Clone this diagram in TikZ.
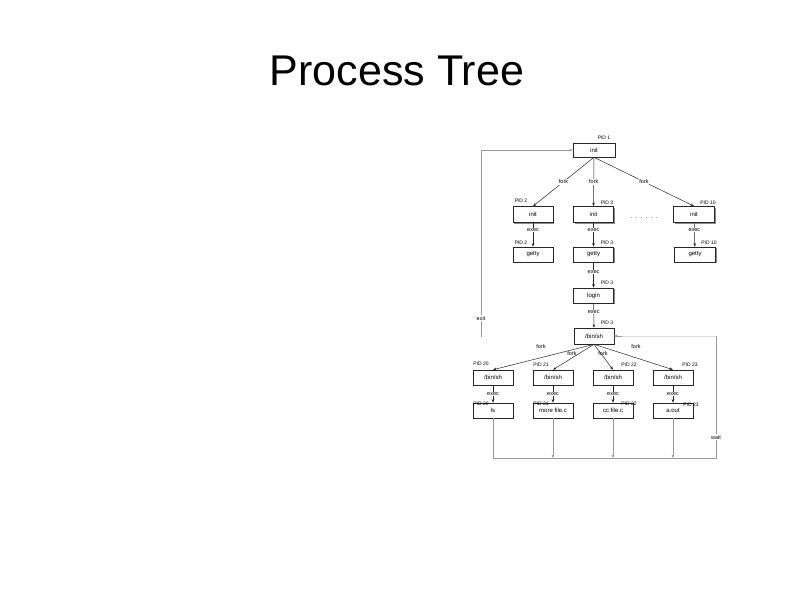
\documentclass[tikz,border=0pt]{standalone}
\usepackage{fontspec}
\setmainfont{Liberation Sans}
\usetikzlibrary{arrows.meta,shadows}
\tikzset{
  pbox/.style={draw=black!85, line width=0.6pt, fill=white, minimum width=40pt, minimum height=15pt,
    inner sep=0pt, font=\fontsize{6}{7}\selectfont,
    drop shadow={shadow xshift=1.2pt, shadow yshift=-1.2pt, fill=black!45, opacity=1}},
  pid/.style={font=\fontsize{5}{6}\selectfont, inner sep=0.5pt},
  lbl/.style={font=\fontsize{5.5}{6}\selectfont, fill=white, inner sep=0.8pt},
  conn/.style={draw=black!85, line width=0.5pt, -{Stealth[length=3.5pt,width=2.6pt]}},
  back/.style={draw=black!40, line width=0.6pt},
  backarr/.style={draw=black!40, line width=0.6pt, -{Stealth[length=3.5pt,width=2.8pt]}},
}
\begin{document}
\begin{tikzpicture}[x=1pt,y=-1pt]
\useasboundingbox[fill=white] (0,0) rectangle (794,595);
% title
\node[font=\fontsize{43}{50}\selectfont, anchor=base, inner sep=0pt] (title) at (397,85) {Process Tree};

% boxes
\node[pbox, minimum width=42pt, minimum height=14pt] (init) at (594,150) {init};
\node[pbox, minimum height=16pt] (i2) at (533,214.5) {init};
\node[pbox, minimum height=16pt] (i3) at (593.5,214.5) {init};
\node[pbox, minimum height=16pt, minimum width=41pt] (i10) at (694,214.5) {init};
\node[pbox] (g2) at (533,254.5) {getty};
\node[pbox] (g3) at (593.5,254.5) {getty};
\node[pbox, minimum width=41pt] (g10) at (695,254.5) {getty};
\node[pbox] (login) at (593.5,295.5) {login};
\node[pbox, minimum height=16pt] (sh) at (594,336) {/bin/sh};
\node[pbox] (s20) at (493,377.5) {/bin/sh};
\node[pbox] (s21) at (553,377.5) {/bin/sh};
\node[pbox] (s22) at (613,377.5) {/bin/sh};
\node[pbox] (s23) at (673,377.5) {/bin/sh};
\node[pbox] (ls) at (493,410.5) {ls};
\node[pbox] (more) at (553,410.5) {more file.c};
\node[pbox] (cc) at (613,410.5) {cc file.c};
\node[pbox] (aout) at (673,410.5) {a.out};

% PID labels
\node[pid] (p1) at (604,138) {PID 1};
\node[pid] (p2a) at (521,201) {PID 2};
\node[pid] (p3a) at (607,203) {PID 3};
\node[pid] (p10a) at (708,203) {PID 10};
\node[pid] (p2b) at (521,243) {PID 2};
\node[pid] (p3b) at (607,243) {PID 3};
\node[pid] (p10b) at (709,243) {PID 10};
\node[pid] (p3c) at (607,283) {PID 3};
\node[pid] (p3d) at (607,323) {PID 3};
\node[pid] (p20a) at (481,364) {PID 20};
\node[pid] (p21a) at (541,365) {PID 21};
\node[pid] (p22a) at (629,365) {PID 22};
\node[pid] (p23a) at (690,365) {PID 23};
\node[pid] (p20b) at (481,404) {PID 20};
\node[pid] (p21b) at (541,404) {PID 21};
\node[pid] (p22b) at (629,404) {PID 22};
\node[pid] (p23b) at (691,405) {PID 23};

% dots
\node[font=\fontsize{6}{6}\selectfont, inner sep=0pt] (dots) at (644,218) {.\ \ .\ \ .\ \ .\ \ .\ \ .};

% forks from init
\draw[conn] (init.south) -- node[lbl] (f1) {fork} (i2.north);
\draw[conn] (init.south) -- node[lbl] (f2) {fork} (i3.north);
\draw[conn] (init.south) -- node[lbl] (f3) {fork} (i10.north);

% execs
\draw[conn] (i2) -- node[lbl, pos=0.3] (e1) {exec} (g2);
\draw[conn] (i3) -- node[lbl, pos=0.3] (e2) {exec} (g3);
\draw[conn] (i10) -- node[lbl, pos=0.3] (e3) {exec} (g10);
\draw[conn] (g3) -- node[lbl, pos=0.38] (e4) {exec} (login);
\draw[conn] (login) -- node[lbl, pos=0.36] (e5) {exec} (sh);

% forks from /bin/sh
\draw[conn] (sh.south) -- (s20.north);
\draw[conn] (sh.south) -- (s21.north);
\draw[conn] (sh.south) -- (s22.north);
\draw[conn] (sh.south) -- (s23.north);
\node[lbl] (f4) at (541,347) {fork};
\node[lbl, fill=none] (f5) at (572,354) {fork};
\node[lbl, fill=none] (f6) at (603,354) {fork};
\node[lbl] (f7) at (636,347) {fork};

\draw[conn] (s20) -- node[lbl] (e6) {exec} (ls);
\draw[conn] (s21) -- node[lbl] (e7) {exec} (more);
\draw[conn] (s22) -- node[lbl] (e8) {exec} (cc);
\draw[conn] (s23) -- node[lbl] (e9) {exec} (aout);

% exit loop
\coordinate (ex0) at (481,337);
\coordinate (ex1) at (481,150);
\draw[backarr] (ex0) -- node[lbl, pos=0.1] (exitl) {exit} (ex1) -- (init.west);

% wait loop
\coordinate (b1) at (493,458);
\coordinate (b2) at (716,458);
\coordinate (b3) at (716,336);
\draw[back] (ls.south) -- (b1) -- (b2) -- node[lbl, pos=0.17] (waitl) {wait} (b3);
\draw[backarr, draw=black!12] (b3) -- (sh.east);
\draw[backarr] ([xshift=8pt]sh.east) -- (sh.east);
\draw[backarr] (more.south) -- (more.south |- b1);
\draw[backarr] (cc.south) -- (cc.south |- b1);
\draw[backarr] (aout.south) -- (aout.south |- b1);
\end{tikzpicture}
\end{document}
